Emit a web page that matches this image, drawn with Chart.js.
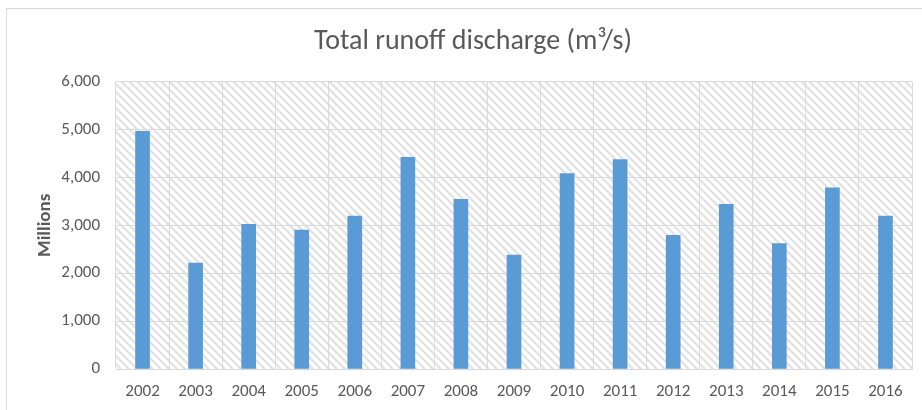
<!DOCTYPE html>
<html>
<head>
<meta charset="utf-8">
<script src="https://cdn.jsdelivr.net/npm/chart.js@4"></script>
<style>
	body { margin: 0; background: #fff; overflow: hidden; }
	#frame { position: absolute; left: 6px; top: 8px; width: 1000px; height: 500px; border: 1px solid #d9d9d9; }
	#wrap { position: absolute; left: 0; top: 0; width: 922px; height: 410px; }
</style>
</head>
<body>
<div id="frame"></div>
<div id="wrap"><canvas id="mycanvas" width="922" height="410"></canvas></div>
<script>
// ** Total runoff discharge bar chart

var years = ['2002', '2003', '2004', '2005', '2006', '2007', '2008', '2009',
	'2010', '2011', '2012', '2013', '2014', '2015', '2016'];
var discharge = [4960, 2210, 3020, 2900, 3190, 4420, 3540, 2380,
	4080, 4370, 2790, 3440, 2620, 3780, 3190];
var yTicks = [0, 1000, 2000, 3000, 4000, 5000, 6000];

var fontName = "Carlito, Calibri, Lato, sans-serif";
var textGrey = '#595959';

// diagonal hatch for the plot area
function makeHatch() {
	var c = document.createElement('canvas');
	c.width = 8;
	c.height = 8;
	var g = c.getContext('2d');
	g.fillStyle = '#ffffff';
	g.fillRect(0, 0, 8, 8);
	g.strokeStyle = '#e3e3e3';
	g.lineWidth = 2.4;
	g.beginPath();
	g.moveTo(-2, -2); g.lineTo(10, 10);
	g.moveTo(-10, -2); g.lineTo(2, 10);
	g.moveTo(6, -2); g.lineTo(18, 10);
	g.stroke();
	return g.createPattern(c, 'repeat');
}

var hatchPlugin = {
	id: 'hatch',
	beforeDraw: function(chart) {
		var a = chart.chartArea;
		var ctx = chart.ctx;
		ctx.save();
		ctx.fillStyle = makeHatch();
		ctx.fillRect(a.left, a.top, a.right - a.left, a.bottom - a.top);
		ctx.restore();
	}
};

var chartdata = {
	labels: years,
	datasets: [{
		label: 'Total runoff discharge',
		backgroundColor: '#5b9bd5',
		borderWidth: 0,
		barThickness: 14,
		data: discharge
	}]
};

var ctx = document.getElementById('mycanvas');

var barGraph = new Chart(ctx, {
	type: 'bar',
	data: chartdata,
	plugins: [hatchPlugin],
	options: {
		responsive: false,
		animation: false,
		layout: {
			padding: { top: 9, right: 10, left: 34, bottom: 0 }
		},
		plugins: {
			legend: { display: false },
			tooltip: { enabled: false },
			title: {
				display: true,
				text: 'Total runoff discharge (m³/s)',
				color: textGrey,
				font: { family: fontName, size: 28, weight: 'normal' },
				padding: { top: 16, bottom: 23 }
			}
		},
		scales: {
			x: {
				grid: {
					offset: true,
					color: '#d9d9d9',
					drawTicks: false
				},
				border: { color: '#d9d9d9' },
				ticks: {
					color: textGrey,
					padding: 13,
					maxRotation: 0,
					font: { family: fontName, size: 17 }
				},
				afterFit: function(scale) { scale.height = 41; }
			},
			y: {
				min: 0,
				max: 6000,
				afterBuildTicks: function(scale) {
					scale.ticks = yTicks.map(function(v) { return { value: v }; });
				},
				grid: {
					color: '#d9d9d9',
					drawTicks: false
				},
				border: { display: false },
				ticks: {
					color: textGrey,
					padding: 16,
					font: { family: fontName, size: 17 },
					callback: function(v) { return v.toLocaleString('en-US'); }
				},
				title: {
					display: true,
					text: 'Millions',
					color: textGrey,
					font: { family: fontName, size: 19, weight: 'bold' },
					padding: { top: 0, bottom: 0 }
				},
				afterFit: function(scale) { scale.width = 82; }
			}
		}
	}
});
</script>
</body>
</html>
